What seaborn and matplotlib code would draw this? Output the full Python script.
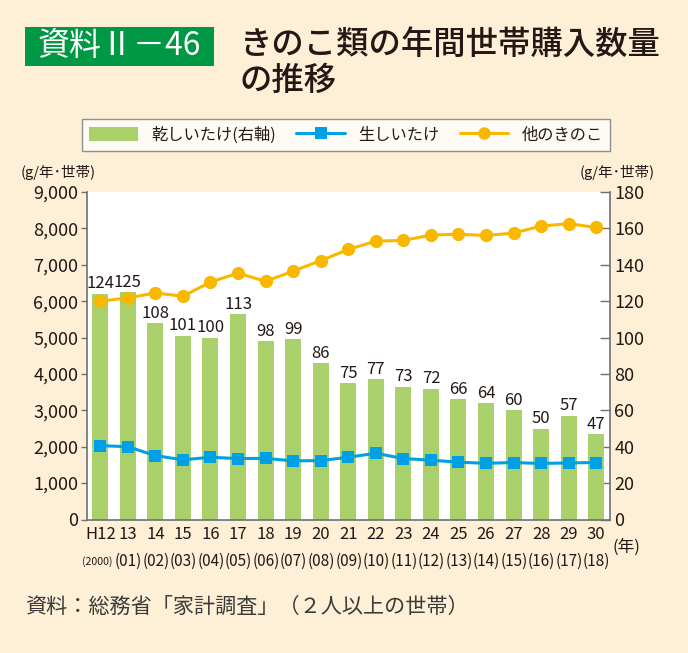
import matplotlib
matplotlib.use("Agg")
import matplotlib.pyplot as plt
import matplotlib.transforms as mtransforms
from matplotlib.patches import Rectangle, Patch
from matplotlib.lines import Line2D
import numpy as np
import pandas as pd
import seaborn as sns

# ---- data ----
years_jp = ["H12", "13", "14", "15", "16", "17", "18", "19", "20", "21",
            "22", "23", "24", "25", "26", "27", "28", "29", "30"]
years_ad = ["(2000)", "(01)", "(02)", "(03)", "(04)", "(05)", "(06)", "(07)", "(08)", "(09)",
            "(10)", "(11)", "(12)", "(13)", "(14)", "(15)", "(16)", "(17)", "(18)"]
dried = [124, 125, 108, 101, 100, 113, 98, 99, 86, 75, 77, 73, 72, 66, 64, 60, 50, 57, 47]
fresh = [2030, 2000, 1755, 1640, 1710, 1675, 1680, 1610, 1620, 1710,
         1820, 1675, 1630, 1575, 1545, 1565, 1540, 1555, 1565]
other = [6000, 6090, 6225, 6135, 6525, 6770, 6545, 6825, 7115, 7420,
         7650, 7670, 7815, 7840, 7805, 7870, 8065, 8130, 8025]
left_ticks = [0, 1000, 2000, 3000, 4000, 5000, 6000, 7000, 8000, 9000]
right_ticks = [0, 20, 40, 60, 80, 100, 120, 140, 160, 180]

BG = "#FDF0D6"
GREEN = "#A9D06B"
BLUE = "#00A0E6"
ORANGE = "#F8B800"
TXT = "#231815"
AXC = "#707070"

sns.set_theme(style="white")
plt.rcParams["font.family"] = ["Noto Sans CJK JP", "DejaVu Sans"]
plt.rcParams["axes.unicode_minus"] = False

W, H = 688, 653
fig = plt.figure(figsize=(W / 100, H / 100), dpi=100, facecolor=BG)
ax = fig.add_axes([86.5 / W, (H - 519.5) / H, 523.5 / W, (519.5 - 192) / H])
ax2 = ax.twinx()

df = pd.DataFrame({"year": years_jp, "dried": dried, "fresh": fresh,
                   "other": other, "idx": np.arange(len(years_jp))})

# bars on right axis
sns.barplot(data=df, x="year", y="dried", order=years_jp, ax=ax2,
            color=GREEN, saturation=1, width=0.58, edgecolor="none")
ax2.bar_label(ax2.containers[0], labels=[str(v) for v in dried],
              padding=1, fontsize=12, color=TXT)

# lines on left axis
sns.lineplot(data=df, x="idx", y="other", ax=ax, color=ORANGE, linewidth=2.2,
             marker="o", markersize=9.5, markeredgewidth=0, legend=False)
sns.lineplot(data=df, x="idx", y="fresh", ax=ax, color=BLUE, linewidth=2.2,
             marker="s", markersize=8.8, markeredgewidth=0, legend=False)

ax.set_zorder(ax2.get_zorder() + 1)
ax.patch.set_visible(False)
ax2.patch.set_visible(True)
ax2.patch.set_facecolor("white")

ax.set_ylim(0, 9000)
ax2.set_ylim(0, 180)
ax.set_xlim(-0.5, len(years_jp) - 0.5)

ax.set_yticks(left_ticks)
ax.set_yticklabels([f"{v:,}" for v in left_ticks], fontsize=13, color=TXT)
ax2.set_yticks(right_ticks)
ax2.set_yticklabels([str(v) for v in right_ticks], fontsize=13, color=TXT)

ax.set_xticks(range(len(years_jp)))
ax.set_xticklabels(years_jp, fontsize=12, color=TXT)
ax.set_xticks(np.arange(0.5, len(years_jp) - 1, 1), minor=True)
ax.tick_params(axis="x", which="major", length=0, pad=5)
ax.tick_params(axis="x", which="minor", direction="in", length=5, width=1, color=AXC)
ax.tick_params(axis="y", direction="out", length=4, width=1, color=AXC, pad=2)
ax2.tick_params(axis="y", direction="in", length=7, width=1, color=AXC, pad=3)

for a in (ax, ax2):
    a.set_xlabel("")
    a.set_ylabel("")
    a.grid(False)
    a.spines["top"].set_visible(False)
for s in ("left", "right", "bottom"):
    ax.spines[s].set_color(AXC)
    ax.spines[s].set_linewidth(1.2)
    ax2.spines[s].set_visible(False)

# second row of x labels
trans = mtransforms.blended_transform_factory(ax.transData, ax.transAxes)
for i, s in enumerate(years_ad):
    if i == 0:
        ax.text(i - 0.1, -0.127, s, transform=trans, ha="center", va="center",
                fontsize=7.6, color=TXT)
    else:
        ax.text(i + 0.02, -0.127, s, transform=trans, ha="center", va="center",
                fontsize=11, color=TXT)

fig.text(626 / W, 1 - 547 / H, "(年)", ha="center", va="center", fontsize=12, color=TXT)
fig.text(58 / W, 1 - 172 / H, "(g/年･世帯)", ha="center", va="center", fontsize=10.5, color=TXT)
fig.text(617 / W, 1 - 172 / H, "(g/年･世帯)", ha="center", va="center", fontsize=10.5, color=TXT)

# legend
handles = [Patch(facecolor=GREEN, edgecolor="none"),
           Line2D([], [], color=BLUE, linewidth=2.2, marker="s", markersize=8.5, markeredgewidth=0),
           Line2D([], [], color=ORANGE, linewidth=2.2, marker="o", markersize=9, markeredgewidth=0)]
labels = ["乾しいたけ(右軸)", "生しいたけ", "他のきのこ"]
leg = fig.legend(handles, labels, loc="lower left", mode="expand", ncol=3,
                 bbox_to_anchor=(82 / W, 1 - 151 / H, 528 / W, 33 / H),
                 borderaxespad=0, fontsize=11.7, frameon=True, fancybox=False,
                 handlelength=3.0, handleheight=1.0, handletextpad=0.8,
                 columnspacing=1.5, borderpad=0.45)
leg.get_frame().set_edgecolor("#777777")
leg.get_frame().set_linewidth(1.0)
leg.get_frame().set_facecolor("white")
for t in leg.get_texts():
    t.set_color(TXT)

# title
fig.patches.append(Rectangle((25 / W, 1 - 66 / H), 189 / W, 39 / H,
                             transform=fig.transFigure, facecolor="#009844",
                             edgecolor="none"))
fig.text(119.5 / W, 1 - 46.5 / H, "資料Ⅱ－46", ha="center", va="center",
         fontsize=23, color="white")
fig.text(240 / W, 1 - 45 / H, "きのこ類の年間世帯購入数量", ha="left", va="center",
         fontsize=23.3, color=TXT, fontweight="medium")
fig.text(240 / W, 1 - 81 / H, "の推移", ha="left", va="center",
         fontsize=23.3, color=TXT, fontweight="medium")

fig.text(25 / W, 1 - 607 / H, "資料：総務省「家計調査」（２人以上の世帯）", ha="left",
         va="center", fontsize=15.2, color="#3a3a3a")

fig.savefig("out.png", dpi=100, facecolor=BG)
